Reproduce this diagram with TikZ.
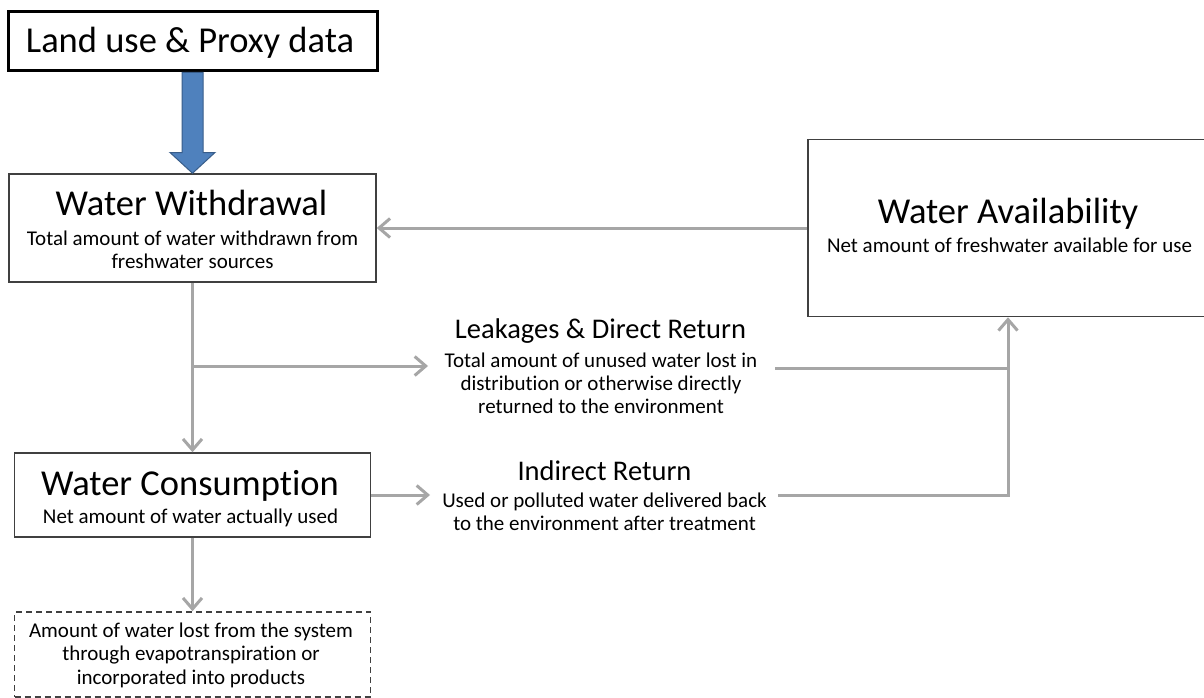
\documentclass[tikz,border=0pt]{standalone}
\usepackage{fontspec}
\setmainfont{Carlito}[Ligatures={NoCommon}]
\usetikzlibrary{arrows.meta,calc}
\definecolor{flowgray}{HTML}{A6A6A6}
\definecolor{boxline}{HTML}{404040}
\definecolor{bluefill}{HTML}{4F81BD}
\definecolor{blueline}{HTML}{385D8A}
\begin{document}
\begin{tikzpicture}[x=1pt,y=-1pt,
  box/.style={draw=boxline, line width=1.5pt, inner sep=0pt},
  flowline/.style={draw=flowgray, line width=3pt},
  flow/.style={flowline, -{Straight Barb[length=11pt,width=19pt,line width=3pt]}},
  bigtitle/.style={font=\fontsize{36.5}{40}\selectfont, anchor=base, inner sep=0pt},
  midtitle/.style={font=\fontsize{28.5}{32}\selectfont, anchor=base, inner sep=0pt},
  subtext/.style={font=\fontsize{21}{23}\selectfont, anchor=base, inner sep=0pt, align=center},
  bluearrow/.style={fill=bluefill, draw=blueline, line width=1pt, line join=miter}
]
\useasboundingbox (0,0) rectangle (1204,698);
\fill[white] (0,0) rectangle (1204,698);

% boxes
\node[draw=black, line width=3pt, inner sep=0pt, minimum width=369pt, minimum height=59pt] (land) at (192.5,41.5) {};
\node[box, minimum width=367pt, minimum height=108pt] (withd) at (192.5,228) {};
\node[box, minimum width=400pt, minimum height=177pt] (avail) at (1008,228) {};
\node[box, minimum width=356pt, minimum height=84pt] (cons) at (192.5,495) {};
\node[box, dashed, dash pattern=on 6pt off 4pt, minimum width=356pt, minimum height=85pt] (lost) at (192.5,654.5) {};

% texts (base anchor = baseline of the last line)
\node[bigtitle] (landt) at (190,53) {Land use \& Proxy data};
\node[bigtitle] (withdt) at (191.5,215) {Water Withdrawal};
\node[subtext] (withds) at (192.5,268) {Total amount of water withdrawn from\\freshwater sources};
\node[bigtitle] (availt) at (1008,223) {Water Availability};
\node[subtext] (avails) at (1009.5,252) {Net amount of freshwater available for use};
\node[midtitle] (leakt) at (600.5,338) {Leakages \& Direct Return};
\node[subtext] (leaks) at (601,413) {Total amount of unused water lost in\\distribution or otherwise directly\\returned to the environment};
\node[midtitle] (indt) at (604.5,480) {Indirect Return};
\node[subtext] (inds) at (604.5,530) {Used or polluted water delivered back\\to the environment after treatment};
\node[bigtitle] (const) at (190,495) {Water Consumption};
\node[subtext] (conss) at (190.5,523) {Net amount of water actually used};
\node[subtext, font=\fontsize{21}{23.5}\selectfont] (lostt) at (191,684) {Amount of water lost from the system\\through evapotranspiration or\\incorporated into products};

% free ends of connectors
\coordinate (lkin) at (428,366);
\coordinate (lkout) at (775,368);
\coordinate (irin) at (430,495);
\coordinate (irout) at (778,495);

% blue arrow
\draw[bluearrow] ($(land.south)+(-10.5,0)$) -- ($(land.south)+(10.5,0)$) -- ($(land.south)+(10.5,80)$) -- ($(land.south)+(22.5,80)$) -- (land.south |- withd.north) -- ($(land.south)+(-22.5,80)$) -- ($(land.south)+(-10.5,80)$) -- cycle;

% gray connectors
\draw[flow] (avail.west) -- (withd.east);
\draw[flow] (withd.south) -- (cons.north);
\draw[flow] (withd.south |- lkin) -- (lkin);
\draw[flowline] (lkout) -- (lkout -| avail.south);
\draw[flow] (irout) -| (avail.south);
\draw[flow] (cons.east) -- (irin);
\draw[flow] (cons.south) -- (lost.north);
\end{tikzpicture}
\end{document}
